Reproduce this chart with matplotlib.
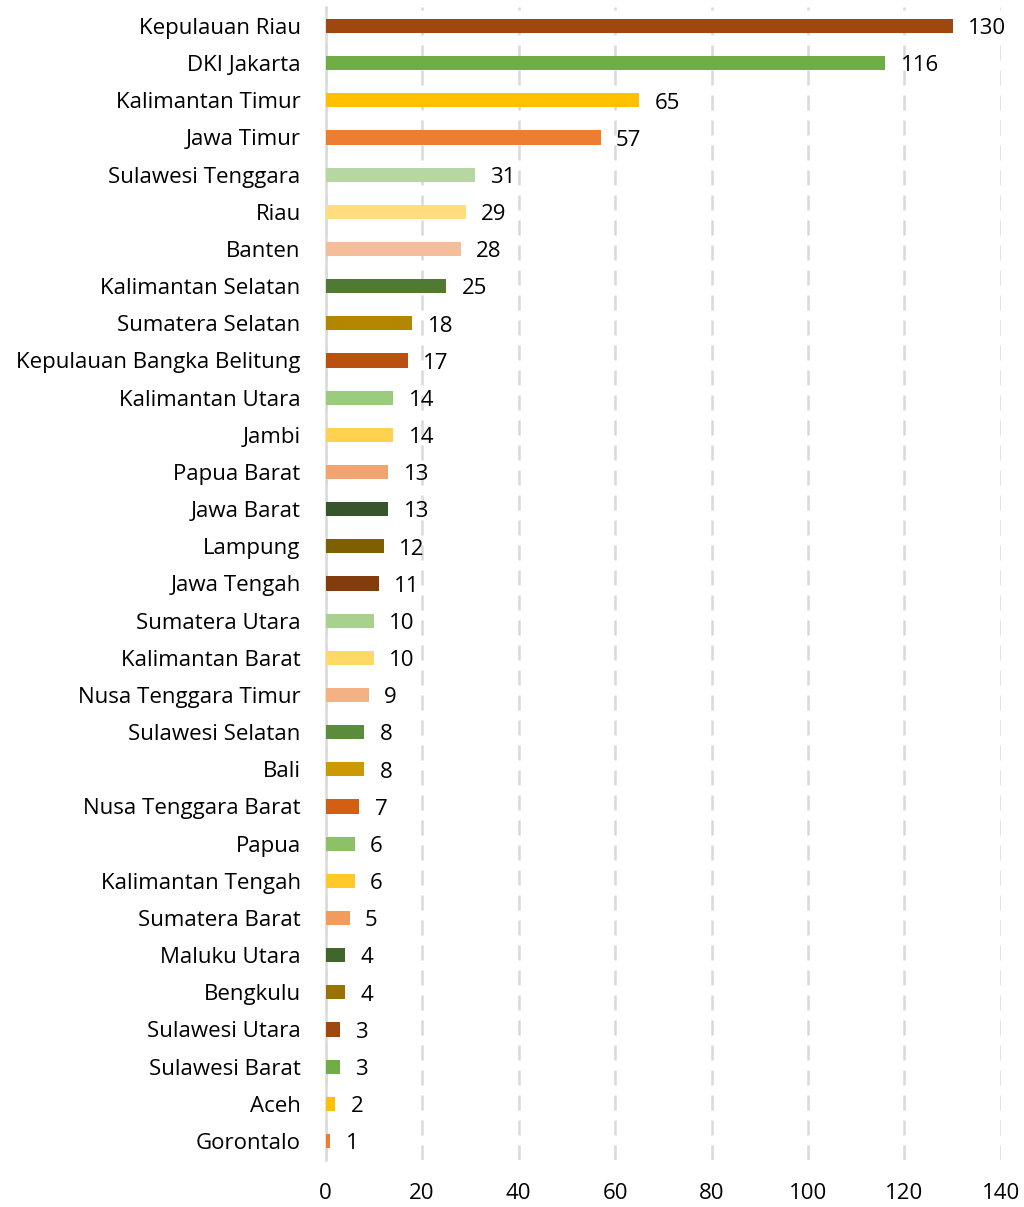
import matplotlib.pyplot as plt

provinces = [
    "Kepulauan Riau", "DKI Jakarta", "Kalimantan Timur", "Jawa Timur",
    "Sulawesi Tenggara", "Riau", "Banten", "Kalimantan Selatan",
    "Sumatera Selatan", "Kepulauan Bangka Belitung", "Kalimantan Utara",
    "Jambi", "Papua Barat", "Jawa Barat", "Lampung", "Jawa Tengah",
    "Sumatera Utara", "Kalimantan Barat", "Nusa Tenggara Timur",
    "Sulawesi Selatan", "Bali", "Nusa Tenggara Barat", "Papua",
    "Kalimantan Tengah", "Sumatera Barat", "Maluku Utara", "Bengkulu",
    "Sulawesi Utara", "Sulawesi Barat", "Aceh", "Gorontalo",
]
values = [130, 116, 65, 57, 31, 29, 28, 25, 18, 17, 14, 14, 13, 13, 12, 11,
          10, 10, 9, 8, 8, 7, 6, 6, 5, 4, 4, 3, 3, 2, 1]
bar_colors = [
    "#9E480E", "#70AD47", "#FFC000", "#ED7D31",
    "#B6D7A2", "#FFDD7F", "#F5BE9A", "#507A32",
    "#B38600", "#BA5110", "#9BCB7C", "#FFD14F",
    "#F1A46F", "#37552A", "#7F6000", "#843C0C",
    "#A9D18E", "#FFD966", "#F4B183", "#5B8C3B",
    "#CC9900", "#D35F12", "#8CC168", "#FFC92A",
    "#F19B5D", "#41662B", "#997300", "#9E480E",
    "#70AD47", "#FFC000", "#ED7D31",
]
x_ticks = [0, 20, 40, 60, 80, 100, 120, 140]

plt.rcParams["font.family"] = ["Open Sans", "DejaVu Sans"]

fig = plt.figure(figsize=(10.24, 12.07), dpi=100)
ax = fig.add_axes([0.318, 0.0393, 0.6595, 0.9546])

pos = list(range(len(provinces)))
ax.barh(pos, values, height=0.38, color=bar_colors, zorder=3)
for y, v in zip(pos, values):
    ax.annotate(str(v), xy=(v, y), xytext=(11, -2), textcoords="offset points",
                va="center", ha="left", fontsize=16, color="#000000")

ax.set_ylim(len(provinces) - 0.5, -0.5)
ax.set_xlim(0, 140)
ax.set_yticks(pos)
ax.set_yticklabels(provinces, fontsize=16)
ax.set_xticks(x_ticks)
ax.set_xticklabels([str(t) for t in x_ticks], fontsize=16)
ax.tick_params(axis="both", length=0)
ax.tick_params(axis="y", pad=18)
ax.tick_params(axis="x", pad=17)

ax.xaxis.grid(True, color="#D9D9D9", linestyle=(0, (6, 4)), linewidth=1.8, zorder=0)
for s in ["top", "right", "bottom"]:
    ax.spines[s].set_visible(False)
ax.spines["left"].set_color("#D9D9D9")
ax.spines["left"].set_linewidth(1.8)

fig.savefig("out.png", dpi=100)
